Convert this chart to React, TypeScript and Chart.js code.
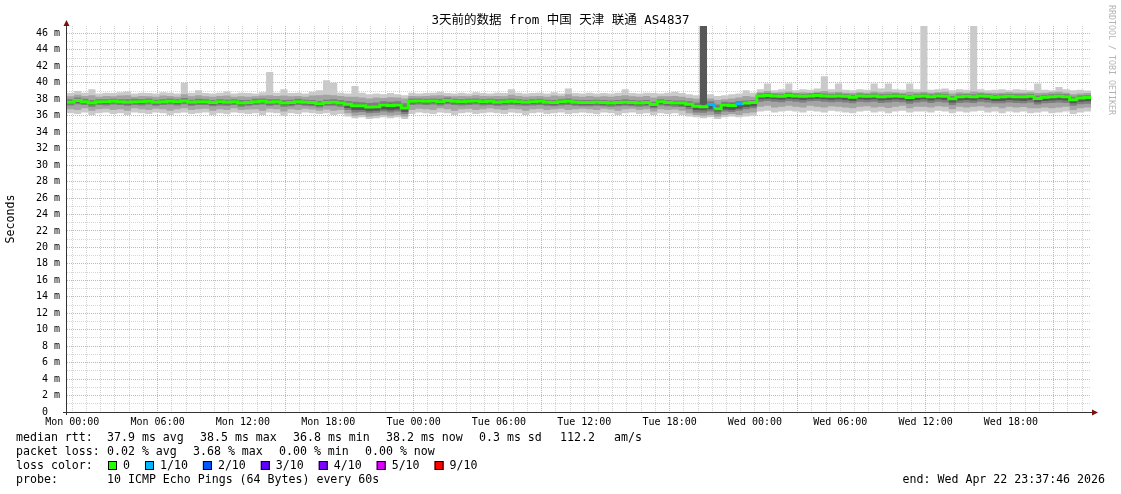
import React, { useEffect, useRef } from "react";
import { Chart, registerables } from "chart.js";

Chart.register(...registerables);

// ---------- text ----------
const TITLE = "3天前的数据 from 中国 天津 联通 AS4837";
const Y_AXIS_TITLE = "Seconds";
const WATERMARK = "RRDTOOL / TOBI OETIKER";
const statsRtt = ["median rtt:", "37.9 ms avg", "38.5 ms max", "36.8 ms min", "38.2 ms now", "0.3 ms sd", "112.2", "am/s"];
const statsLoss = ["packet loss:", "0.02 % avg", "3.68 % max", "0.00 % min", "0.00 % now"];
const lossLegendTitle = "loss color:";
const lossLegendLabels = ["0", "1/10", "2/10", "3/10", "4/10", "5/10", "9/10"];
const lossLegendColors = ["#26ff00", "#00b8ff", "#0059ff", "#5e00ff", "#7e00ff", "#dd00ff", "#ff0000"];
const probeLabel = "probe:";
const probeText = "10 ICMP Echo Pings (64 Bytes) every 60s";
const endText = "end: Wed Apr 22 23:37:46 2026";

// ---------- axes ----------
const START_HOUR = -0.3706; // Sun 23:37:46 relative to Mon 00:00
const BUCKET_HOURS = 0.5;
const Y_MIN = 0;
const Y_MAX = 46.9;
const xTickHours = [0, 6, 12, 18, 24, 30, 36, 42, 48, 54, 60, 66];
const xTickLabels = ["Mon 00:00", "Mon 06:00", "Mon 12:00", "Mon 18:00", "Tue 00:00", "Tue 06:00", "Tue 12:00", "Tue 18:00", "Wed 00:00", "Wed 06:00", "Wed 12:00", "Wed 18:00"];
const xMajorGridHours = [6, 15, 24, 33, 42, 51, 60, 69];
const yLabelValues = [0, 2, 4, 6, 8, 10, 12, 14, 16, 18, 20, 22, 24, 26, 28, 30, 32, 34, 36, 38, 40, 42, 44, 46];

// ---------- data (half-hour buckets, ms) ----------
const median = [
  37.65, 37.85, 37.7, 37.55, 37.7, 37.7, 37.75, 37.7, 37.65, 37.7, 37.7, 37.75,
  37.65, 37.7, 37.75, 37.7, 37.8, 37.65, 37.7, 37.7, 37.6, 37.7, 37.65, 37.7,
  37.55, 37.6, 37.7, 37.75, 37.65, 37.7, 37.55, 37.6, 37.7, 37.65, 37.6, 37.45,
  37.6, 37.65, 37.55, 37.4, 37.2, 37.2, 37.05, 37.1, 37.3, 37.25, 37.3, 36.95,
  37.75, 37.8, 37.75, 37.8, 37.7, 37.85, 37.75, 37.7, 37.75, 37.8, 37.7, 37.75,
  37.65, 37.7, 37.75, 37.7, 37.65, 37.7, 37.75, 37.65, 37.6, 37.7, 37.75, 37.65,
  37.6, 37.6, 37.65, 37.6, 37.55, 37.6, 37.65, 37.6, 37.55, 37.6, 37.35, 37.7,
  37.6, 37.55, 37.55, 37.4, 37.15, 37.1, 37.35, 36.85, 37.3, 37.25, 37.45, 37.55,
  37.6, 38.4, 38.45, 38.4, 38.35, 38.45, 38.4, 38.35, 38.4, 38.45, 38.4, 38.35,
  38.4, 38.35, 38.25, 38.4, 38.35, 38.4, 38.3, 38.35, 38.4, 38.35, 38.2, 38.35,
  38.4, 38.3, 38.4, 38.35, 38.05, 38.3, 38.35, 38.3, 38.4, 38.35, 38.25, 38.3,
  38.35, 38.3, 38.3, 38.35, 38.1, 38.25, 38.3, 38.35, 38.3, 37.95, 38.15, 38.2,
];

const lossTenths = [
  0, 0, 0, 0, 0, 0, 0, 0, 0, 0, 0, 0,
  0, 0, 0, 0, 0, 0, 0, 0, 0, 0, 0, 0,
  0, 0, 0, 0, 0, 0, 0, 0, 0, 0, 0, 0,
  0, 0, 0, 0, 0, 0, 0, 0, 0, 0, 0, 0,
  0, 0, 0, 0, 0, 0, 0, 0, 0, 0, 0, 0,
  0, 0, 0, 0, 0, 0, 0, 0, 0, 0, 0, 0,
  0, 0, 0, 0, 0, 0, 0, 0, 0, 0, 0, 0,
  0, 0, 0, 0, 0, 0, 1, 0, 0, 0, 1, 0,
  0, 0, 0, 0, 0, 0, 0, 0, 0, 0, 0, 0,
  0, 0, 0, 0, 0, 0, 0, 0, 0, 0, 0, 0,
  0, 0, 0, 0, 0, 0, 0, 0, 0, 0, 0, 0,
  0, 0, 0, 0, 0, 0, 0, 0, 0, 0, 0, 0,
];

// outer smoke (ping 1 .. ping 10)
const smokeHi1 = [
  38.75, 39.0, 38.8, 39.2, 38.7, 38.8, 38.75, 38.85, 38.95, 38.7, 38.8, 38.75,
  38.7, 38.85, 38.8, 38.7, 40.0, 38.8, 39.1, 38.75, 38.7, 38.8, 38.95, 38.7,
  38.8, 38.75, 38.7, 38.85, 41.3, 38.8, 39.2, 38.75, 38.8, 38.7, 38.9, 39.1,
  40.3, 40.0, 38.8, 38.7, 39.6, 38.8, 38.6, 38.7, 38.6, 38.75, 38.6, 38.5,
  38.8, 38.7, 38.75, 38.8, 38.9, 38.75, 38.7, 38.8, 38.7, 38.85, 38.75, 38.7,
  38.8, 38.75, 39.2, 38.8, 38.7, 38.75, 38.8, 38.7, 38.85, 38.7, 39.3, 38.75,
  38.7, 38.8, 38.7, 38.75, 38.7, 38.8, 39.2, 38.75, 38.7, 38.8, 38.75, 38.7,
  38.8, 38.9, 38.75, 38.6, 38.5, 46.9, 38.6, 38.4, 38.5, 38.6, 38.7, 39.1,
  38.8, 39.2, 39.9, 39.1, 39.2, 39.9, 39.1, 39.2, 39.15, 39.3, 40.8, 39.2,
  39.9, 39.15, 39.1, 39.2, 39.15, 39.9, 39.3, 39.9, 39.2, 39.15, 39.9, 39.2,
  46.9, 39.15, 39.2, 39.3, 39.1, 39.2, 39.15, 46.9, 39.2, 39.1, 39.15, 39.2,
  39.1, 39.2, 39.15, 39.1, 39.9, 39.15, 39.1, 39.5, 39.2, 39.1, 39.15, 39.05,
];
const smokeLo1 = [
  36.3, 36.2, 36.4, 36.1, 36.3, 36.4, 36.2, 36.3, 36.1, 36.4, 36.3, 36.2,
  36.4, 36.3, 36.1, 36.3, 36.4, 36.2, 36.3, 36.4, 36.1, 36.3, 36.2, 36.4,
  36.3, 36.2, 36.3, 36.1, 36.4, 36.3, 36.0, 36.3, 36.2, 36.4, 36.3, 36.2,
  36.3, 36.1, 36.2, 35.9, 35.7, 35.8, 35.6, 35.7, 35.8, 35.7, 35.8, 35.6,
  36.2, 36.4, 36.3, 36.2, 36.4, 36.3, 36.1, 36.3, 36.4, 36.2, 36.3, 36.4,
  36.3, 36.2, 36.4, 36.3, 36.1, 36.3, 36.4, 36.2, 36.3, 36.4, 36.2, 36.3,
  36.4, 36.3, 36.2, 36.4, 36.3, 36.1, 36.3, 36.4, 36.2, 36.3, 36.1, 36.3,
  36.2, 36.3, 36.1, 35.9, 35.8, 35.7, 35.8, 35.6, 35.8, 35.9, 35.8, 35.9,
  36.0, 36.5, 36.6, 36.4, 36.5, 36.6, 36.5, 36.4, 36.6, 36.5, 36.4, 36.6,
  36.5, 36.4, 36.3, 36.5, 36.6, 36.4, 36.5, 36.3, 36.5, 36.6, 36.4, 36.5,
  36.5, 36.4, 36.6, 36.5, 36.3, 36.5, 36.4, 36.5, 36.6, 36.4, 36.5, 36.3,
  36.5, 36.4, 36.5, 36.3, 36.4, 36.5, 36.3, 36.4, 36.5, 36.2, 36.4, 36.5,
];
// second smoke layer (ping 2 .. ping 9)
const smokeHi2 = [
  38.35, 38.55, 38.4, 38.5, 38.3, 38.4, 38.35, 38.45, 38.5, 38.3, 38.4, 38.35,
  38.3, 38.45, 38.4, 38.3, 38.6, 38.35, 38.5, 38.35, 38.3, 38.4, 38.45, 38.3,
  38.35, 38.3, 38.35, 38.45, 38.5, 38.4, 38.45, 38.35, 38.4, 38.3, 38.45, 38.5,
  38.55, 38.5, 38.4, 38.3, 38.3, 38.2, 38.1, 38.2, 38.15, 38.25, 38.2, 38.1,
  38.4, 38.35, 38.4, 38.45, 38.5, 38.4, 38.35, 38.4, 38.35, 38.5, 38.4, 38.35,
  38.4, 38.35, 38.55, 38.4, 38.3, 38.35, 38.4, 38.3, 38.45, 38.35, 38.6, 38.35,
  38.3, 38.4, 38.3, 38.35, 38.3, 38.4, 38.5, 38.35, 38.3, 38.4, 38.2, 38.35,
  38.35, 38.4, 38.3, 38.15, 38.05, 46.9, 38.1, 37.9, 38.0, 38.1, 38.2, 38.4,
  38.3, 38.85, 39.0, 38.8, 38.85, 38.95, 38.8, 38.85, 38.8, 38.9, 39.0, 38.85,
  38.9, 38.8, 38.75, 38.85, 38.8, 38.95, 38.85, 38.9, 38.85, 38.8, 38.9, 38.85,
  38.9, 38.8, 38.85, 38.9, 38.7, 38.85, 38.8, 38.95, 38.85, 38.8, 38.75, 38.8,
  38.85, 38.8, 38.8, 38.85, 38.75, 38.8, 38.85, 38.9, 38.8, 38.6, 38.7, 38.75,
];
const smokeLo2 = [
  36.8, 36.7, 36.9, 36.6, 36.8, 36.85, 36.7, 36.8, 36.6, 36.9, 36.8, 36.7,
  36.85, 36.8, 36.6, 36.8, 36.9, 36.7, 36.8, 36.85, 36.6, 36.8, 36.7, 36.9,
  36.7, 36.75, 36.8, 36.6, 36.85, 36.8, 36.5, 36.8, 36.7, 36.85, 36.75, 36.6,
  36.75, 36.6, 36.7, 36.3, 36.0, 36.1, 35.9, 36.0, 36.1, 36.0, 36.1, 35.9,
  36.7, 36.85, 36.8, 36.7, 36.9, 36.8, 36.6, 36.8, 36.85, 36.7, 36.8, 36.9,
  36.8, 36.7, 36.85, 36.8, 36.6, 36.8, 36.85, 36.7, 36.8, 36.85, 36.7, 36.8,
  36.85, 36.8, 36.7, 36.85, 36.75, 36.6, 36.8, 36.85, 36.7, 36.8, 36.5, 36.8,
  36.7, 36.75, 36.6, 36.3, 36.1, 36.0, 36.1, 35.9, 36.1, 36.2, 36.1, 36.3,
  36.4, 37.1, 37.2, 37.0, 37.1, 37.2, 37.1, 37.0, 37.2, 37.1, 37.0, 37.15,
  37.1, 37.0, 36.9, 37.1, 37.15, 37.0, 37.1, 36.95, 37.1, 37.2, 36.9, 37.1,
  37.1, 37.0, 37.15, 37.1, 36.8, 37.1, 37.0, 37.1, 37.15, 37.0, 37.1, 36.9,
  37.1, 37.0, 37.05, 36.9, 36.9, 37.0, 36.9, 37.0, 37.1, 36.7, 36.9, 37.0,
];
// third smoke layer (ping 3 .. ping 8)
const smokeHi3 = [
  38.0, 38.2, 38.05, 37.9, 38.0, 38.0, 38.05, 38.0, 38.0, 38.05, 38.0, 38.1,
  37.95, 38.0, 38.1, 38.0, 38.15, 37.95, 38.05, 38.0, 37.9, 38.0, 37.95, 38.0,
  37.9, 37.9, 38.05, 38.1, 38.0, 38.0, 37.9, 37.95, 38.05, 37.95, 37.9, 37.8,
  37.95, 38.0, 37.9, 37.8, 37.7, 37.65, 37.55, 37.6, 37.75, 37.7, 37.75, 37.5,
  38.1, 38.1, 38.05, 38.1, 38.05, 38.2, 38.05, 38.0, 38.05, 38.1, 38.0, 38.05,
  38.0, 38.0, 38.1, 38.0, 37.95, 38.0, 38.05, 37.95, 37.9, 38.0, 38.1, 37.95,
  37.9, 37.9, 37.95, 37.9, 37.85, 37.9, 38.0, 37.9, 37.85, 37.9, 37.7, 38.0,
  37.9, 37.85, 37.85, 37.75, 37.6, 46.9, 37.75, 37.35, 37.7, 37.65, 37.8, 37.85,
  37.9, 38.7, 38.75, 38.7, 38.65, 38.75, 38.7, 38.65, 38.7, 38.75, 38.7, 38.65,
  38.7, 38.65, 38.55, 38.7, 38.65, 38.7, 38.6, 38.65, 38.7, 38.65, 38.5, 38.65,
  38.7, 38.6, 38.7, 38.65, 38.4, 38.6, 38.65, 38.6, 38.7, 38.65, 38.55, 38.6,
  38.65, 38.6, 38.6, 38.65, 38.45, 38.55, 38.6, 38.65, 38.6, 38.3, 38.45, 38.5,
];
const smokeLo3 = [
  37.25, 37.4, 37.3, 37.1, 37.3, 37.25, 37.35, 37.3, 37.2, 37.3, 37.25, 37.35,
  37.2, 37.3, 37.35, 37.25, 37.4, 37.2, 37.3, 37.3, 37.15, 37.25, 37.2, 37.3,
  37.1, 37.2, 37.3, 37.35, 37.2, 37.3, 37.1, 37.15, 37.3, 37.2, 37.15, 37.0,
  37.2, 37.2, 37.1, 36.7, 36.4, 36.45, 36.3, 36.35, 36.5, 36.4, 36.5, 36.2,
  37.3, 37.35, 37.3, 37.35, 37.25, 37.4, 37.3, 37.25, 37.3, 37.35, 37.25, 37.3,
  37.2, 37.25, 37.3, 37.25, 37.2, 37.25, 37.3, 37.2, 37.15, 37.25, 37.3, 37.2,
  37.15, 37.15, 37.2, 37.15, 37.1, 37.15, 37.2, 37.15, 37.1, 37.15, 36.9, 37.25,
  37.15, 37.1, 37.05, 36.8, 36.4, 36.35, 36.5, 36.2, 36.5, 36.45, 36.6, 36.8,
  36.9, 37.7, 37.8, 37.7, 37.65, 37.8, 37.7, 37.6, 37.75, 37.8, 37.7, 37.65,
  37.7, 37.6, 37.5, 37.7, 37.65, 37.7, 37.55, 37.6, 37.7, 37.65, 37.45, 37.6,
  37.7, 37.55, 37.7, 37.6, 37.3, 37.55, 37.6, 37.55, 37.7, 37.6, 37.5, 37.5,
  37.6, 37.55, 37.5, 37.6, 37.35, 37.5, 37.55, 37.6, 37.55, 37.2, 37.4, 37.45,
];
// core smoke layer (ping 4 .. ping 7)
const smokeHi4 = [
  37.8, 38.0, 37.85, 37.7, 37.85, 37.85, 37.9, 37.85, 37.8, 37.85, 37.85, 37.9,
  37.8, 37.85, 37.9, 37.85, 37.95, 37.8, 37.85, 37.85, 37.75, 37.85, 37.8, 37.85,
  37.7, 37.75, 37.85, 37.9, 37.8, 37.85, 37.7, 37.75, 37.85, 37.8, 37.75, 37.6,
  37.75, 37.8, 37.7, 37.55, 37.4, 37.4, 37.25, 37.3, 37.5, 37.45, 37.5, 37.15,
  37.9, 37.95, 37.9, 37.95, 37.85, 38.0, 37.9, 37.85, 37.9, 37.95, 37.85, 37.9,
  37.8, 37.85, 37.9, 37.85, 37.8, 37.85, 37.9, 37.8, 37.75, 37.85, 37.9, 37.8,
  37.75, 37.75, 37.8, 37.75, 37.7, 37.75, 37.8, 37.75, 37.7, 37.75, 37.5, 37.85,
  37.75, 37.7, 37.7, 37.55, 37.35, 46.9, 37.55, 37.1, 37.5, 37.45, 37.6, 37.7,
  37.75, 38.55, 38.6, 38.55, 38.5, 38.6, 38.55, 38.5, 38.55, 38.6, 38.55, 38.5,
  38.55, 38.5, 38.4, 38.55, 38.5, 38.55, 38.45, 38.5, 38.55, 38.5, 38.35, 38.5,
  38.55, 38.45, 38.55, 38.5, 38.2, 38.45, 38.5, 38.45, 38.55, 38.5, 38.4, 38.45,
  38.5, 38.45, 38.45, 38.5, 38.25, 38.4, 38.45, 38.5, 38.45, 38.1, 38.3, 38.35,
];
const smokeLo4 = [
  37.45, 37.6, 37.5, 37.3, 37.5, 37.45, 37.55, 37.5, 37.4, 37.5, 37.45, 37.55,
  37.4, 37.5, 37.55, 37.45, 37.6, 37.4, 37.5, 37.5, 37.35, 37.45, 37.4, 37.5,
  37.3, 37.4, 37.5, 37.55, 37.4, 37.5, 37.3, 37.35, 37.5, 37.4, 37.35, 37.2,
  37.4, 37.4, 37.3, 36.95, 36.7, 36.7, 36.55, 36.6, 36.75, 36.65, 36.75, 36.45,
  37.5, 37.55, 37.5, 37.55, 37.45, 37.6, 37.5, 37.45, 37.5, 37.55, 37.45, 37.5,
  37.4, 37.45, 37.5, 37.45, 37.4, 37.45, 37.5, 37.4, 37.35, 37.45, 37.5, 37.4,
  37.35, 37.35, 37.4, 37.35, 37.3, 37.35, 37.4, 37.35, 37.3, 37.35, 37.1, 37.45,
  37.35, 37.3, 37.25, 37.05, 36.7, 36.65, 36.8, 36.5, 36.75, 36.7, 36.85, 37.05,
  37.15, 38.0, 38.05, 38.0, 37.95, 38.05, 38.0, 37.9, 38.0, 38.05, 38.0, 37.95,
  38.0, 37.9, 37.8, 38.0, 37.95, 38.0, 37.85, 37.9, 38.0, 37.95, 37.75, 37.9,
  38.0, 37.85, 38.0, 37.9, 37.6, 37.85, 37.9, 37.85, 38.0, 37.9, 37.8, 37.8,
  37.9, 37.85, 37.8, 37.9, 37.65, 37.8, 37.85, 37.9, 37.85, 37.5, 37.7, 37.75,
];

// ---------- styles ----------
const SMOKE_COLORS = ["#cacaca", "#a4a4a4", "#7e7e7e", "#585858"];
const GRID_MINOR = "#d4d4d4";
const GRID_MAJOR = "#f4a0a0";
const AXIS_COLOR = "#333333";
const ARROW_COLOR = "#7a1010";
const MONO = '"DejaVu Sans Mono", "Noto Sans CJK SC", monospace';

const lossColorFor = (t: number) =>
  t <= 0 ? lossLegendColors[0] : t === 1 ? lossLegendColors[1] : t === 2 ? lossLegendColors[2] :
  t === 3 ? lossLegendColors[3] : t === 4 ? lossLegendColors[4] : t <= 8 ? lossLegendColors[5] : lossLegendColors[6];

const N = Math.min(median.length, smokeHi1.length, smokeLo1.length, smokeHi2.length, smokeLo2.length,
  smokeHi3.length, smokeLo3.length, smokeHi4.length, smokeLo4.length);

const toPoints = (arr: number[]) => {
  const pts = [] as { x: number; y: number }[];
  for (let i = 0; i < N; i++) pts.push({ x: START_HOUR + i * BUCKET_HOURS, y: arr[i] });
  pts.push({ x: START_HOUR + N * BUCKET_HOURS, y: arr[N - 1] });
  return pts;
};

const band = (hi: number[], lo: number[], color: string) => [
  { type: "line", data: toPoints(hi), stepped: true, fill: "+1", backgroundColor: color,
    borderColor: "rgba(0,0,0,0)", borderWidth: 0, pointRadius: 0 },
  { type: "line", data: toPoints(lo), stepped: true, fill: false,
    borderColor: "rgba(0,0,0,0)", borderWidth: 0, pointRadius: 0 },
];

const overlayPlugin = {
  id: "smokepingOverlay",
  afterDraw(chart: any) {
    const { ctx, chartArea } = chart;
    const L = Math.round(chartArea.left);
    const B = Math.round(chartArea.bottom);
    const T = Math.round(chartArea.top);
    const R = Math.round(chartArea.right);
    ctx.save();
    // axes
    ctx.strokeStyle = AXIS_COLOR;
    ctx.lineWidth = 1;
    ctx.beginPath();
    ctx.moveTo(L - 0.5, B + 3);
    ctx.lineTo(L - 0.5, T - 1);
    ctx.moveTo(L - 4, B + 0.5);
    ctx.lineTo(R + 2, B + 0.5);
    ctx.stroke();
    // arrows
    ctx.fillStyle = ARROW_COLOR;
    ctx.beginPath();
    ctx.moveTo(L - 0.5, T - 6);
    ctx.lineTo(L - 3.5, T);
    ctx.lineTo(L + 2.5, T);
    ctx.closePath();
    ctx.fill();
    ctx.beginPath();
    ctx.moveTo(R + 7, B + 0.5);
    ctx.lineTo(R + 1, B - 2.5);
    ctx.lineTo(R + 1, B + 3.5);
    ctx.closePath();
    ctx.fill();

    // title
    ctx.fillStyle = "#000";
    ctx.font = `12.5px ${MONO}`;
    ctx.textAlign = "center";
    ctx.textBaseline = "middle";
    ctx.fillText(TITLE, 560.5, 21);

    // y axis title
    ctx.save();
    ctx.font = `11.6px ${MONO}`;
    ctx.translate(10.5, 219);
    ctx.rotate(-Math.PI / 2);
    ctx.fillText(Y_AXIS_TITLE, 0, 0);
    ctx.restore();

    // watermark
    ctx.save();
    ctx.fillStyle = "#b4b4b4";
    ctx.font = `8.3px ${MONO}`;
    ctx.translate(1111.5, 60);
    ctx.rotate(Math.PI / 2);
    ctx.fillText(WATERMARK, 0, 0);
    ctx.restore();

    // legend
    ctx.font = `11.6px ${MONO}`;
    ctx.textAlign = "left";
    ctx.fillStyle = "#000";
    const rttX = [16, 107, 200, 293, 386, 479, 560, 614];
    statsRtt.forEach((s, i) => ctx.fillText(s, rttX[i], 437.5));
    const lossX = [16, 107, 193, 279, 365];
    statsLoss.forEach((s, i) => ctx.fillText(s, lossX[i], 451.7));
    ctx.fillText(lossLegendTitle, 16, 465.9);
    let x = 108;
    lossLegendLabels.forEach((lab, i) => {
      ctx.fillStyle = lossLegendColors[i];
      ctx.fillRect(x, 461, 9, 9);
      ctx.strokeStyle = "#000";
      ctx.strokeRect(x + 0.5, 461.5, 8, 8);
      ctx.fillStyle = "#000";
      ctx.fillText(lab, x + 15, 465.9);
      x = x + 15 + ctx.measureText(lab).width + 15;
    });
    ctx.fillText(probeLabel, 16, 480);
    ctx.fillText(probeText, 107, 480);
    ctx.textAlign = "right";
    ctx.fillText(endText, 1105, 480);
    ctx.restore();
  },
};

export default function App() {
  const canvasRef = useRef<HTMLCanvasElement | null>(null);

  useEffect(() => {
    const canvas = canvasRef.current;
    if (!canvas) return;
    const datasets: any[] = [
      {
        type: "line",
        data: toPoints(median),
        stepped: true,
        fill: false,
        borderColor: lossLegendColors[0],
        borderWidth: 3,
        borderCapStyle: "butt",
        borderJoinStyle: "miter",
        pointRadius: 0,
        segment: {
          borderColor: (c: any) => lossColorFor(lossTenths[c.p0DataIndex] || 0),
        },
      },
      ...band(smokeHi4, smokeLo4, SMOKE_COLORS[3]),
      ...band(smokeHi3, smokeLo3, SMOKE_COLORS[2]),
      ...band(smokeHi2, smokeLo2, SMOKE_COLORS[1]),
      ...band(smokeHi1, smokeLo1, SMOKE_COLORS[0]),
    ];

    const xGridHours: number[] = [];
    for (let h = 0; h <= 71; h++) xGridHours.push(h);
    const yGridValues: number[] = [];
    for (let v = 0; v <= 46; v++) yGridValues.push(v);

    const chart = new Chart(canvas, {
      type: "line",
      data: { datasets },
      plugins: [overlayPlugin],
      options: {
        responsive: false,
        maintainAspectRatio: false,
        devicePixelRatio: 1,
        animation: false,
        events: [],
        layout: { padding: { top: 26, right: 30, bottom: 0, left: 0 } },
        plugins: {
          legend: { display: false },
          title: { display: false },
          tooltip: { enabled: false },
          filler: { propagate: false },
        },
        scales: {
          x: {
            type: "linear",
            min: START_HOUR,
            max: START_HOUR + 144 * BUCKET_HOURS,
            afterBuildTicks: (s: any) => { s.ticks = xGridHours.map((v) => ({ value: v })); },
            afterFit: (s: any) => { s.height = 82; },
            grid: {
              color: (c: any) => (c.tick && xMajorGridHours.includes(c.tick.value) ? GRID_MAJOR : GRID_MINOR),
              lineWidth: 1,
              drawTicks: false,
            },
            border: { display: false, dash: [1, 1] },
            ticks: {
              autoSkip: false,
              maxRotation: 0,
              minRotation: 0,
              padding: 4,
              color: "#000",
              font: { family: MONO, size: 10 },
              callback: (v: any) => {
                const k = xTickHours.indexOf(Number(v));
                return k >= 0 ? xTickLabels[k] : "";
              },
            },
          },
          y: {
            type: "linear",
            min: Y_MIN,
            max: Y_MAX,
            afterBuildTicks: (s: any) => { s.ticks = yGridValues.map((v) => ({ value: v })); },
            afterFit: (s: any) => { s.width = 67; },
            grid: {
              color: (c: any) => (c.tick && yLabelValues.includes(c.tick.value) ? GRID_MAJOR : GRID_MINOR),
              lineWidth: 1,
              drawTicks: false,
            },
            border: { display: false, dash: [1, 1] },
            ticks: {
              autoSkip: false,
              padding: 7,
              color: "#000",
              font: { family: MONO, size: 10 },
              callback: (v: any) => {
                const n = Number(v);
                if (!yLabelValues.includes(n)) return "";
                return n === 0 ? "0  " : `${n} m`;
              },
            },
          },
        },
      } as any,
    } as any);

    return () => chart.destroy();
  }, []);

  return (
    <div style={{ position: "absolute", left: 0, top: 0, width: 1121, height: 494, background: "#fff" }}>
      <canvas ref={canvasRef} width={1121} height={494} style={{ display: "block", width: 1121, height: 494 }} />
    </div>
  );
}
